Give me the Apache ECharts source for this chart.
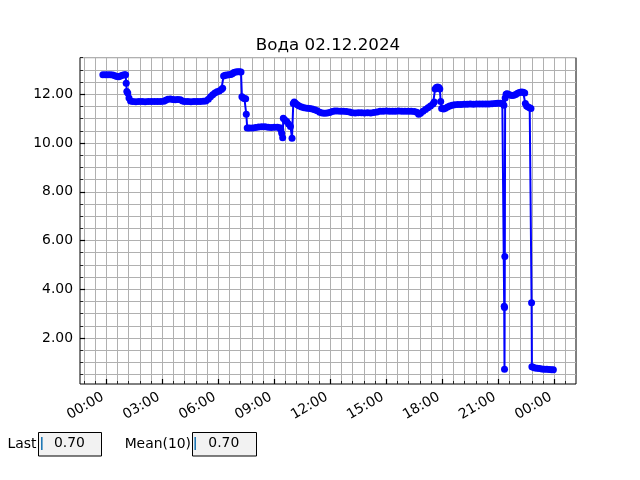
<!DOCTYPE html>
<html><head><meta charset="utf-8">
<script src="https://cdn.jsdelivr.net/npm/echarts@6/dist/echarts.min.js"></script>
<style>html,body{margin:0;padding:0;background:#fff}#c{width:640px;height:480px}</style>
</head><body><div id="c"></div>
<script>
// ---- data (time in minutes from 00:00 of 02.12.2024) ----
const chartTitle = 'Вода 02.12.2024';
const timesMin = [
 -11,-3,5,13,21,28,34,40,46,52,58,62,64,66,69,73,78,
 85,95,105,115,125,135,145,155,165,175,185,191,198,206,214,222,230,238,245,
 252,262,272,282,292,302,312,320,328,335,342,349,356,363,370,374,377,382,388,394,400,
 405,410,416,422,428,433,436,440,444,448,450,453,
 460,470,480,490,500,510,520,530,540,550,558,561,564,567,569,574,580,586,592,597,
 601,604,608,614,620,628,636,645,654,662,670,678,686,694,702,710,718,726,734,
 742,752,762,772,782,790,800,810,820,830,840,850,860,870,880,890,900,910,920,930,
 940,950,960,970,980,990,998,1004,1010,1018,1026,1034,1042,1050,1054,1057,1061,1065,
 1069,1072,1075,1078,1084,1090,1097,1104,1112,1120,1130,1140,1150,1160,1170,1180,
 1190,1200,1210,1220,1230,1240,1250,1258,1266,1273,1278,1279,1280,1280,1281,1282,
 1285,1288,1292,1298,1304,1310,1316,1322,1328,1334,1340,1345,1347,1351,1356,1361,
 1365,1367,1368,1372,1378,1385,1392,1400,1408,1416,1424,1431,1437
];
const values = [
 12.80,12.80,12.80,12.80,12.79,12.76,12.73,12.72,12.75,12.78,12.80,12.80,12.45,12.12,12.05,11.85,11.72,
 11.70,11.69,11.70,11.70,11.69,11.70,11.70,11.70,11.70,11.70,11.71,11.76,11.80,11.81,11.79,11.78,11.79,11.78,11.73,
 11.70,11.70,11.69,11.70,11.70,11.70,11.71,11.73,11.80,11.90,11.98,12.05,12.10,12.14,12.20,12.25,12.75,12.78,12.79,12.80,12.81,
 12.84,12.89,12.92,12.93,12.93,12.92,11.90,11.85,11.83,11.82,11.18,10.62,
 10.62,10.62,10.64,10.66,10.67,10.67,10.65,10.64,10.65,10.65,10.63,10.55,10.40,10.22,11.02,10.95,10.88,10.78,10.68,10.20,
 11.62,11.68,11.63,11.57,11.52,11.48,11.45,11.43,11.42,11.40,11.37,11.32,11.26,11.23,11.22,11.23,11.25,11.29,11.31,
 11.31,11.30,11.30,11.29,11.27,11.24,11.23,11.24,11.24,11.23,11.24,11.23,11.25,11.27,11.30,11.30,11.31,11.30,11.30,11.30,
 11.31,11.30,11.30,11.30,11.30,11.29,11.26,11.18,11.22,11.30,11.38,11.45,11.52,11.60,11.68,12.22,12.28,12.30,
 12.28,12.22,11.70,11.42,11.40,11.43,11.48,11.52,11.55,11.57,11.58,11.58,11.59,11.59,11.60,11.59,
 11.60,11.60,11.60,11.60,11.60,11.61,11.62,11.63,11.63,11.62,11.55,3.30,3.25,0.72,5.34,11.85,
 12.00,12.02,12.00,11.97,11.95,11.96,11.99,12.04,12.07,12.09,12.08,12.05,11.62,11.52,11.48,11.45,
 11.42,3.45,0.82,0.80,0.77,0.76,0.75,0.73,0.72,0.72,0.71,0.70,0.70
];
const xMajorTicks = [0,180,360,540,720,900,1080,1260,1440];
const xTickLabels = ['00:00','03:00','06:00','09:00','12:00','15:00','18:00','21:00','00:00'];
const yMajorTicks = [2,4,6,8,10,12];
const yTickLabels = ['2.00','4.00','6.00','8.00','10.00','12.00'];
const lastLabel = 'Last', lastValue = '0.70';
const meanLabel = 'Mean(10)', meanValue = '0.70';

// ---- layout ----
const X_MIN = -84.5, X_MAX = 1509.8, Y_MIN = 0.112, Y_MAX = 13.506;
const xMinor = []; for (let v = -72; v <= X_MAX; v += 36) xMinor.push(v);
const yMinor = []; for (let v = 0.5; v <= Y_MAX; v += 0.5) yMinor.push(+v.toFixed(2));
const FONT = 'DejaVu Sans';
const gridCol = '#b0b0b0';

const chart = echarts.init(document.getElementById('c'), null, {renderer: 'canvas'});
const data = timesMin.map((t, i) => [t, values[i]]);

chart.setOption({
  animation: false,
  backgroundColor: '#fff',
  grid: {left: 80, top: 57.6, width: 496, height: 326.4, show: true,
         borderColor: '#000', borderWidth: 1, backgroundColor: 'transparent', containLabel: false},
  xAxis: [
    {type: 'value', min: X_MIN, max: X_MAX, position: 'bottom',
     axisLine: {show: false, onZero: false}, splitLine: {show: false},
     axisTick: {show: true, inside: true, length: 5, customValues: xMajorTicks,
                lineStyle: {color: '#000', width: 1.2}},
     axisLabel: {show: true, customValues: xMajorTicks, rotate: 30, margin: 10,
                 padding: [0, 4, 0, 0],
                 fontFamily: FONT, fontSize: 13.9, color: '#000',
                 formatter: v => xTickLabels[xMajorTicks.indexOf(v)]}},
    {type: 'value', min: X_MIN, max: X_MAX, position: 'bottom', offset: 0,
     axisLine: {show: false, onZero: false},
     axisTick: {show: true, inside: true, length: 3, customValues: xMinor,
                lineStyle: {color: '#000', width: 0.8}},
     axisLabel: {show: false},
     splitLine: {show: true, lineStyle: {color: gridCol, width: 1}}}
  ],
  yAxis: [
    {type: 'value', min: Y_MIN, max: Y_MAX, position: 'left',
     axisLine: {show: false, onZero: false}, splitLine: {show: false},
     axisTick: {show: true, inside: true, length: 5, customValues: yMajorTicks,
                lineStyle: {color: '#000', width: 1.2}},
     axisLabel: {show: true, customValues: yMajorTicks, margin: 7,
                 fontFamily: FONT, fontSize: 13.9, color: '#000',
                 formatter: v => yTickLabels[yMajorTicks.indexOf(v)]}},
    {type: 'value', min: Y_MIN, max: Y_MAX, position: 'left', offset: 0,
     axisLine: {show: false, onZero: false},
     axisTick: {show: true, inside: true, length: 3, customValues: yMinor,
                lineStyle: {color: '#000', width: 0.8}},
     axisLabel: {show: false},
     splitLine: {show: true, lineStyle: {color: gridCol, width: 1}}}
  ],
  series: [{
    type: 'line', xAxisIndex: 0, yAxisIndex: 0, data: data,
    symbol: 'circle', symbolSize: 7, showSymbol: true, showAllSymbol: true,
    lineStyle: {color: '#0000ff', width: 2},
    itemStyle: {color: '#0000ff'}, z: 5
  }],
  graphic: [
    {type: 'text', x: 328, y: 45.5, style: {text: chartTitle, font: '16.7px "DejaVu Sans"',
      fill: '#000', textAlign: 'center', textVerticalAlign: 'middle'}},
    {type: 'text', x: 36.5, y: 444.5, style: {text: lastLabel, font: '13.9px "DejaVu Sans"',
      fill: '#000', textAlign: 'right', textVerticalAlign: 'middle'}},
    {type: 'rect', shape: {x: 38.5, y: 432.5, width: 63, height: 23.5},
      style: {fill: '#f2f2f2', stroke: '#000', lineWidth: 1}},
    {type: 'line', shape: {x1: 41.8, y1: 437, x2: 41.8, y2: 450},
      style: {stroke: '#1f77b4', lineWidth: 1.6}},
    {type: 'text', x: 54, y: 443.5, style: {text: lastValue, font: '13.9px "DejaVu Sans"',
      fill: '#000', textAlign: 'left', textVerticalAlign: 'middle'}},
    {type: 'text', x: 191, y: 444.5, style: {text: meanLabel, font: '13.9px "DejaVu Sans"',
      fill: '#000', textAlign: 'right', textVerticalAlign: 'middle'}},
    {type: 'rect', shape: {x: 192.5, y: 432.5, width: 64, height: 23.5},
      style: {fill: '#f2f2f2', stroke: '#000', lineWidth: 1}},
    {type: 'line', shape: {x1: 195.2, y1: 437, x2: 195.2, y2: 450},
      style: {stroke: '#1f77b4', lineWidth: 1.6}},
    {type: 'text', x: 208.3, y: 443.5, style: {text: meanValue, font: '13.9px "DejaVu Sans"',
      fill: '#000', textAlign: 'left', textVerticalAlign: 'middle'}}
  ]
});
</script></body></html>
